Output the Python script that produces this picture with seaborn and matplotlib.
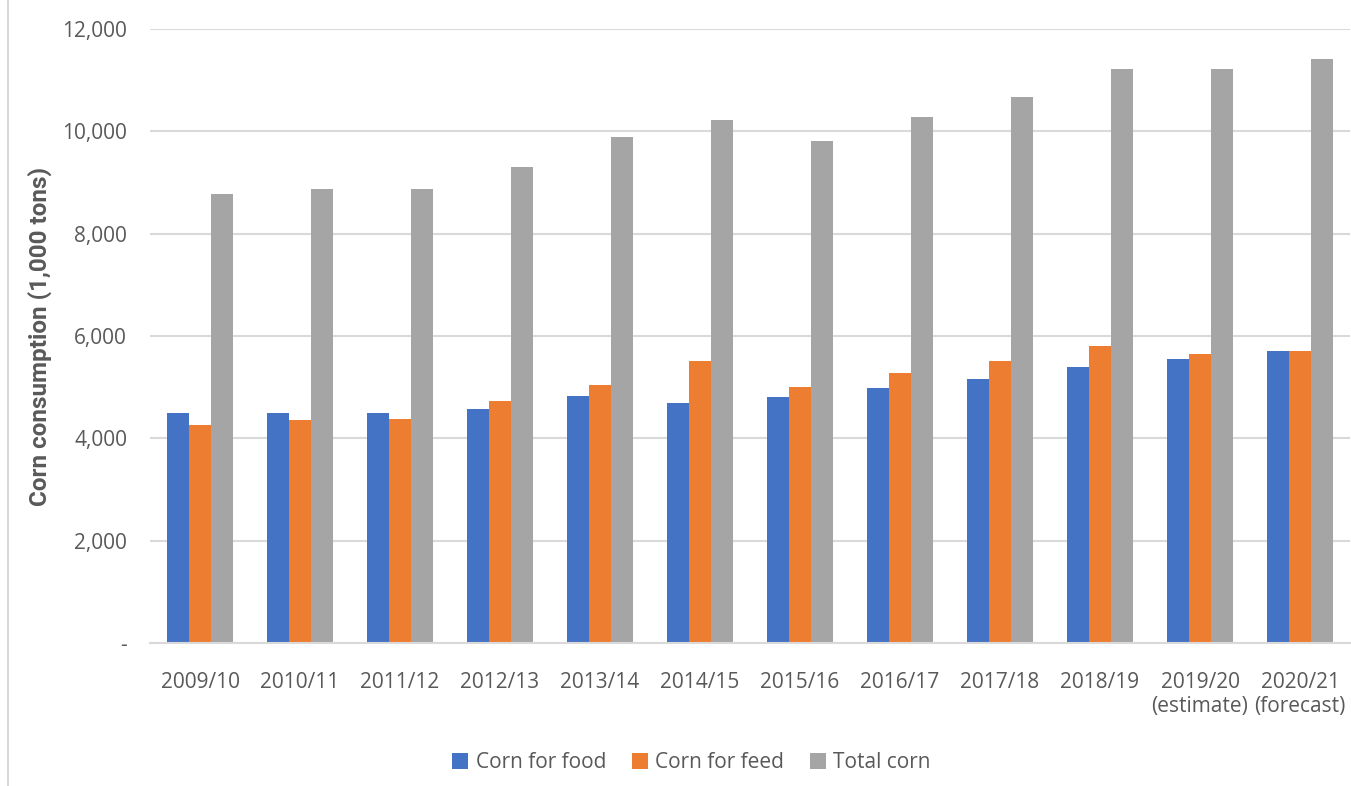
import matplotlib
matplotlib.use("Agg")
import matplotlib.pyplot as plt
import seaborn as sns
import pandas as pd
from matplotlib.lines import Line2D
from matplotlib.ticker import FuncFormatter

years = ["2009/10", "2010/11", "2011/12", "2012/13", "2013/14", "2014/15",
         "2015/16", "2016/17", "2017/18", "2018/19", "2019/20\n(estimate)",
         "2020/21\n(forecast)"]
corn_food = [4500, 4500, 4500, 4580, 4830, 4700, 4810, 4990, 5160, 5400, 5550, 5710]
corn_feed = [4270, 4360, 4380, 4720, 5045, 5510, 5005, 5280, 5510, 5805, 5650, 5710]
total_corn = [8780, 8875, 8875, 9305, 9890, 10220, 9810, 10280, 10670, 11210, 11210, 11410]
series_names = ["Corn for food", "Corn for feed", "Total corn"]
colors = ["#4472C4", "#ED7D31", "#A5A5A5"]

rows = []
for name, vals in zip(series_names, [corn_food, corn_feed, total_corn]):
    for y, v in zip(years, vals):
        rows.append({"Year": y, "Series": name, "Value": v})
df = pd.DataFrame(rows)

sns.set_theme(style="white")
plt.rcParams['font.family'] = ['Open Sans', 'DejaVu Sans']

fig = plt.figure(figsize=(13.51, 7.86), dpi=100)
ax = fig.add_axes([150 / 1351, 1 - 643 / 786, 1200 / 1351, (643 - 29) / 786])

sns.barplot(data=df, x="Year", y="Value", hue="Series", order=years,
            hue_order=series_names, palette=colors, width=0.665, gap=0,
            saturation=1, ax=ax, errorbar=None, legend=True, linewidth=0)

ax.set_xlim(-0.5, len(years) - 0.5)
ax.set_ylim(0, 12000)
ax.set_yticks(range(0, 12001, 2000))
ax.yaxis.set_major_formatter(FuncFormatter(lambda v, p: "-" if v == 0 else f"{int(v):,}"))
ax.grid(axis="y", color="#D9D9D9", linewidth=1.5)
ax.set_axisbelow(True)
for s in ["top", "right", "left"]:
    ax.spines[s].set_visible(False)
ax.spines["bottom"].set_color("#D9D9D9")
ax.spines["bottom"].set_linewidth(1.5)
ax.tick_params(axis="both", length=0, colors="#595959", labelsize=15)
ax.tick_params(axis="x", pad=21)
ax.tick_params(axis="y", pad=16.5)
ax.set_xlabel("")
ax.set_ylabel("Corn consumption (1,000 tons)", fontsize=17.5, fontweight="bold",
              color="#595959", family=["Roboto", "DejaVu Sans"])
ax.yaxis.set_label_coords(-0.0817, 0.5)

ax.legend(loc="center", bbox_to_anchor=(691.5 / 1351, 1 - 763 / 786),
          bbox_transform=fig.transFigure, ncol=3, frameon=False,
          fontsize=15, labelcolor="#595959", handlelength=0.77, handleheight=0.77,
          handletextpad=0.34, columnspacing=1.25, borderpad=0, borderaxespad=0)

fig.add_artist(Line2D([8 / 1351, 8 / 1351], [0, 1], color="#D9D9D9", linewidth=1.5,
                      transform=fig.transFigure))

fig.savefig("out.png", dpi=100)
